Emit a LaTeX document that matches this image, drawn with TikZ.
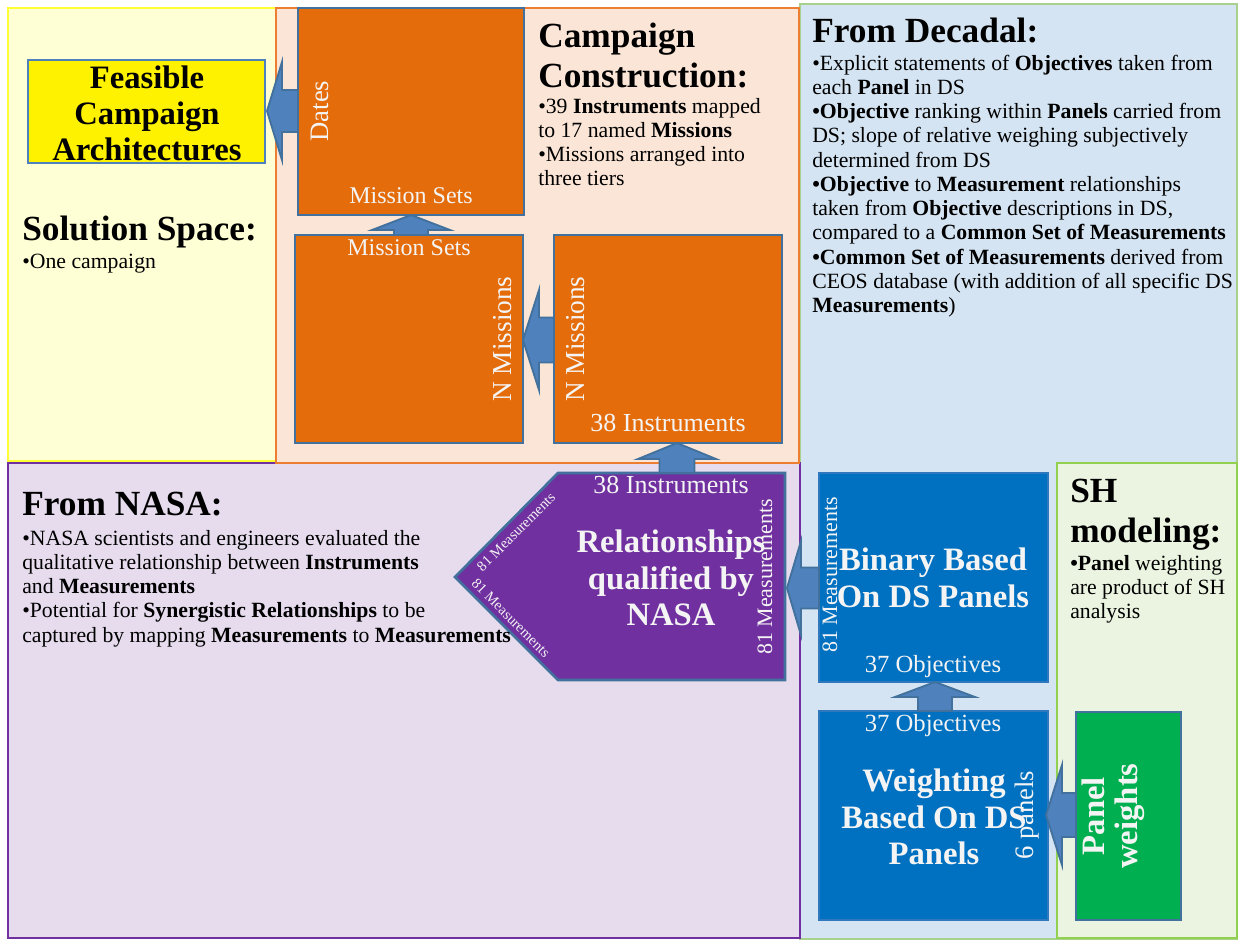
\documentclass[tikz,border=0pt]{standalone}
\usepackage{fontspec}
\setmainfont{Liberation Serif}
\usetikzlibrary{fit}
\definecolor{yelfill}{HTML}{FFFFD5}
\definecolor{yelline}{HTML}{FFFF33}
\definecolor{orfill}{HTML}{FBE5D6}
\definecolor{orline}{HTML}{ED7D31}
\definecolor{decfill}{HTML}{D5E4F2}
\definecolor{decline}{HTML}{A9D18E}
\definecolor{nasafill}{HTML}{E6DCEE}
\definecolor{nasaline}{HTML}{7030A0}
\definecolor{shfill}{HTML}{EBF4E1}
\definecolor{shline}{HTML}{92D050}
\definecolor{obox}{HTML}{E46C0A}
\definecolor{bbox}{HTML}{0070C0}
\definecolor{bboxline}{HTML}{2F78BE}
\definecolor{gbox}{HTML}{00B050}
\definecolor{pbox}{HTML}{7030A0}
\definecolor{edge}{HTML}{41719C}
\definecolor{arrfill}{HTML}{4F81BD}
\definecolor{textw}{HTML}{F4F4F4}
\newcommand\fsz[2]{\fontsize{#1}{#2}\selectfont}
\newcommand\blk[1]{\parbox[t]{560pt}{\raggedright #1}}
% left block arrow: tip x, y, head base x, tail x, head half, shaft half
\newcommand\arrL[6]{\draw[barrow] (#1,#2) -- (#3,#2-#5) -- (#3,#2-#6) -- (#4,#2-#6) -- (#4,#2+#6) -- (#3,#2+#6) -- (#3,#2+#5) -- cycle;}
% up block arrow: x, tip y, head base y, tail y, head half, shaft half
\newcommand\arrU[6]{\draw[barrow] (#1,#2) -- (#1+#5,#3) -- (#1+#6,#3) -- (#1+#6,#4) -- (#1-#6,#4) -- (#1-#6,#3) -- (#1-#5,#3) -- cycle;}
\begin{document}
\begin{tikzpicture}[x=0.75pt,y=-0.75pt,
  region/.style={line width=2pt},
  orbox/.style={fill=obox, draw=edge, line width=2pt, inner sep=0pt},
  blbox/.style={fill=bbox, draw=bboxline, line width=1pt, inner sep=0pt},
  barrow/.style={fill=arrfill, draw=edge, line width=1.4pt, line join=miter},
  title/.style={anchor=base west, inner sep=0pt, font=\fsz{26.5}{30}\bfseries},
  body/.style={anchor=base west, inner sep=0pt, font=\fsz{16.3}{18.2}},
  lab/.style={inner sep=0pt, text=textw},
  big/.style={inner sep=0pt, text=textw, align=center, font=\fsz{24.5}{27.4}\bfseries}
]
\useasboundingbox (0,0) rectangle (1239,940);
\fill[white] (0,0) rectangle (1239,940);
% regions
\draw[region, fill=decfill, draw=decline] (800,4) rectangle (1237,939);
\draw[region, fill=nasafill, draw=nasaline] (8,463) rectangle (800,938);
\draw[region, fill=yelfill, draw=yelline] (8,8) rectangle (276,461);
\draw[region, fill=orfill, draw=orline] (276,8) rectangle (799,463);
\draw[region, fill=shfill, draw=shline] (1057,463) rectangle (1237,938);

% boxes
\node[fill=yellow, draw=arrfill, line width=2pt, inner sep=0pt, fit={(28,60)(265,163)}] (feas) {};
\node[orbox, fit={(298,8)(524,215)}] (dates) {};
\node[orbox, fit={(295,235)(523,443)}] (msets) {};
\node[orbox, fit={(554,235)(782,443)}] (nmis) {};
\draw[fill=pbox, draw=edge, line width=2pt, line join=miter] (558,473) -- (785,473) -- (785,680) -- (558,680) -- (455,577) -- cycle;
\node[inner sep=0pt, fit={(558,473)(785,680)}] (rel) {};
\node[blbox, fit={(819,473)(1048,682)}] (binary) {};
\node[blbox, fit={(819,711)(1048,920)}] (weight) {};
\node[fill=gbox, draw=edge, line width=2pt, inner sep=0pt, fit={(1076,712)(1181,920)}] (panelw) {};

% block arrows
\arrL{267}{111}{282}{298}{49}{21}
\arrU{411}{215}{230}{235}{39}{17}
\arrL{523}{340}{539}{554}{50}{22.5}
\arrU{677}{443}{459}{473}{39}{17.5}
\arrL{787}{588}{801}{819}{47}{20.5}
\arrU{935}{682}{697}{711}{40}{17}
\arrL{1046}{815}{1062}{1076}{50}{22}

% box texts
\node[inner sep=0pt, align=center, font=\fsz{24.5}{27}\bfseries] (feast) at (147,113) {Feasible\\Campaign\\Architectures};
\node[lab, rotate=90, font=\fsz{20}{22}] (datesl) at (320,111) {Dates};
\node[lab, anchor=base, font=\fsz{18}{20}] (ms1) at (411,203) {Mission Sets};
\node[lab, anchor=base, font=\fsz{18}{20}] (ms2) at (409,255) {Mission Sets};
\node[lab, rotate=90, font=\fsz{20.5}{22}] (nm1) at (503,339) {N Missions};
\node[lab, rotate=90, font=\fsz{20.5}{22}] (nm2) at (576,339) {N Missions};
\node[lab, anchor=base, font=\fsz{19.5}{22}] (ins1) at (668,431) {38 Instruments};
\node[lab, anchor=base, font=\fsz{19.5}{22}] (ins2) at (671,493) {38 Instruments};
\node[big] (relt) at (671,578) {Relationships\\qualified by\\NASA};
\node[lab, rotate=90, font=\fsz{16.5}{18}] (m81a) at (765,577) {81 Measurements};
\node[lab, rotate=45, font=\fsz{11}{12}] (m81b) at (516,532) {81 Measurements};
\node[lab, rotate=-45, font=\fsz{11}{12}] (m81c) at (511,618) {81 Measurements};
\node[lab, rotate=90, font=\fsz{16.5}{18}] (m81d) at (830,575) {81 Measurements};
\node[big] (bint) at (933,578) {Binary Based\\On DS Panels};
\node[lab, anchor=base, font=\fsz{18.5}{20}] (ob1) at (933,672) {37 Objectives};
\node[lab, anchor=base, font=\fsz{18.5}{20}] (ob2) at (933,731) {37 Objectives};
\node[big] (weit) at (934,817) {Weighting\\Based On DS\\Panels};
\node[lab, rotate=90, font=\fsz{20}{22}] (sixp) at (1027,815) {6 panels};
\node[big, rotate=90, font=\fsz{24.5}{25}\bfseries] (pwt) at (1113,816) {Panel\\weights};

% region texts
\node[title] (solt) at (22,240) {Solution Space:};
\node[body] (solb) at (22,268) {\blk{•One campaign}};
\node[title] (cct1) at (538,47) {Campaign};
\node[title] (cct2) at (538,87) {Construction:};
\node[body] (ccb) at (538,113) {\blk{•39 \textbf{Instruments} mapped\\to 17 named \textbf{Missions}\\•Missions arranged into\\three tiers}};
\node[title] (dect) at (812,42) {From Decadal:};
\node[body] (decb) at (812,70) {\blk{•Explicit statements of \textbf{Objectives} taken from\\
each \textbf{Panel} in DS\\
\textbf{•Objective} ranking within \textbf{Panels} carried from\\
DS; slope of relative weighing subjectively\\
determined from DS\\
\textbf{•Objective} to \textbf{Measurement} relationships\\
taken from \textbf{Objective} descriptions in DS,\\
compared to a \textbf{Common Set of Measurements}\\
\textbf{•Common Set of Measurements} derived from\\
CEOS database (with addition of all specific DS\\
\textbf{Measurements})}};
\node[title] (nasat) at (22,515) {From NASA:};
\node[body] (nasab) at (22,545) {\blk{•NASA scientists and engineers evaluated the\\
qualitative relationship between \textbf{Instruments}\\
and \textbf{Measurements}\\
•Potential for \textbf{Synergistic Relationships} to be\\
captured by mapping \textbf{Measurements} to \textbf{Measurements}}};
\node[title] (sht1) at (1070,502) {SH};
\node[title] (sht2) at (1070,542) {modeling:};
\node[body] (shb) at (1070,570) {\blk{\textbf{•Panel} weighting\\are product of SH\\analysis}};
\end{tikzpicture}
\end{document}
